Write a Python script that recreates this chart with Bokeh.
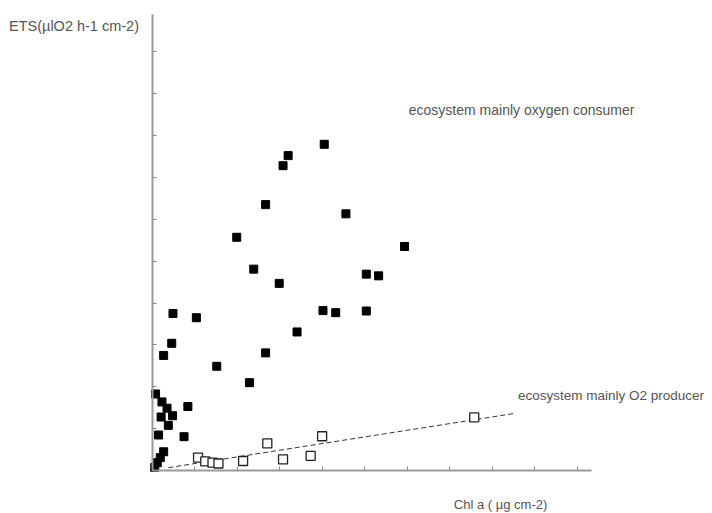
from bokeh.plotting import figure
from bokeh.models import Range1d, FixedTicker, Label, LinearAxis
from bokeh.embed import file_html
from bokeh.resources import INLINE

# Data
consumer_chl = [4.05, 3.20, 3.08, 2.67, 4.56, 1.99, 5.94, 2.39, 5.04, 5.33, 2.99, 0.49, 1.04,
                4.02, 4.32, 5.04, 3.41, 0.46, 0.27, 2.67, 1.52, 2.29, 0.08, 0.23, 0.84, 0.35,
                0.48, 0.21, 0.38, 0.15, 0.75, 0.27, 0.19, 0.12, 0.06]
consumer_ets = [7.79, 7.52, 7.28, 6.35, 6.13, 5.57, 5.35, 4.81, 4.69, 4.65, 4.47, 3.75, 3.65,
                3.82, 3.77, 3.81, 3.31, 3.04, 2.75, 2.81, 2.49, 2.10, 1.83, 1.64, 1.53, 1.49,
                1.31, 1.28, 1.08, 0.85, 0.81, 0.45, 0.31, 0.19, 0.08]
producer_chl = [1.08, 1.25, 1.42, 1.56, 2.14, 2.71, 3.08, 3.73, 4.00, 7.58]
producer_ets = [0.31, 0.22, 0.19, 0.17, 0.23, 0.65, 0.27, 0.35, 0.82, 1.27]
fit_chl = [0.38, 8.56]
fit_ets = [0.07, 1.37]
x_ticks = [0, 1, 2, 3, 4, 5, 6, 7, 8, 9, 10]
y_ticks = [0, 1, 2, 3, 4, 5, 6, 7, 8, 9, 10]
x_axis_end = 10.33
y_axis_end = 10.89

y_label = "ETS(µlO2 h-1 cm-2)"
x_label = "Chl a ( µg cm-2)"
consumer_text = "ecosystem mainly oxygen consumer"
producer_text = "ecosystem  mainly O2 producer"

p = figure(width=704, height=512, output_backend="svg", toolbar_location=None,
           x_range=Range1d(-3.57, 13.0), y_range=Range1d(-1.0, 11.223),
           x_axis_location=None, y_axis_location=None,
           min_border_left=0, min_border_right=0, min_border_top=0, min_border_bottom=0)
p.outline_line_color = None
p.xgrid.visible = False
p.ygrid.visible = False
p.background_fill_color = "white"
p.border_fill_color = "white"

xa = LinearAxis(ticker=FixedTicker(ticks=x_ticks), fixed_location=0, bounds=(0, x_axis_end))
ya = LinearAxis(ticker=FixedTicker(ticks=y_ticks), fixed_location=0, bounds=(0, y_axis_end))
for ax, ticks in ((xa, x_ticks), (ya, y_ticks)):
    ax.axis_line_color = "#9a9a9a"
    ax.axis_line_width = 2
    ax.major_tick_line_color = "#8a8a8a"
    ax.major_tick_in = 4
    ax.major_tick_out = 0
    ax.minor_tick_line_color = None
    ax.major_label_overrides = {t: "" for t in ticks}
    ax.major_label_text_font_size = "1px"
    ax.major_label_standoff = 0
p.add_layout(xa, "below")
p.add_layout(ya, "left")

p.line(fit_chl, fit_ets, line_color="#333333", line_width=1, line_dash="5 3")

p.scatter(consumer_chl, consumer_ets, marker="square", size=8,
          fill_color="black", line_color="black", line_width=1)
p.scatter(producer_chl, producer_ets, marker="square", size=9,
          fill_color="white", line_color="#222222", line_width=1.3)

font = "Liberation Sans"
common = dict(text_font=font, text_color="#555555",
              text_baseline="middle", text_align="left")
p.add_layout(Label(x=-3.37, y=10.62, text=y_label, text_font_size="14.5px", **common))
p.add_layout(Label(x=6.04, y=8.61, text=consumer_text, text_font_size="14px", **common))
p.add_layout(Label(x=8.61, y=1.80, text=producer_text, text_font_size="13.5px", **common))
p.add_layout(Label(x=7.10, y=-0.80, text=x_label, text_font_size="13px", **common))

open("out.html", "w").write(file_html(p, INLINE))
